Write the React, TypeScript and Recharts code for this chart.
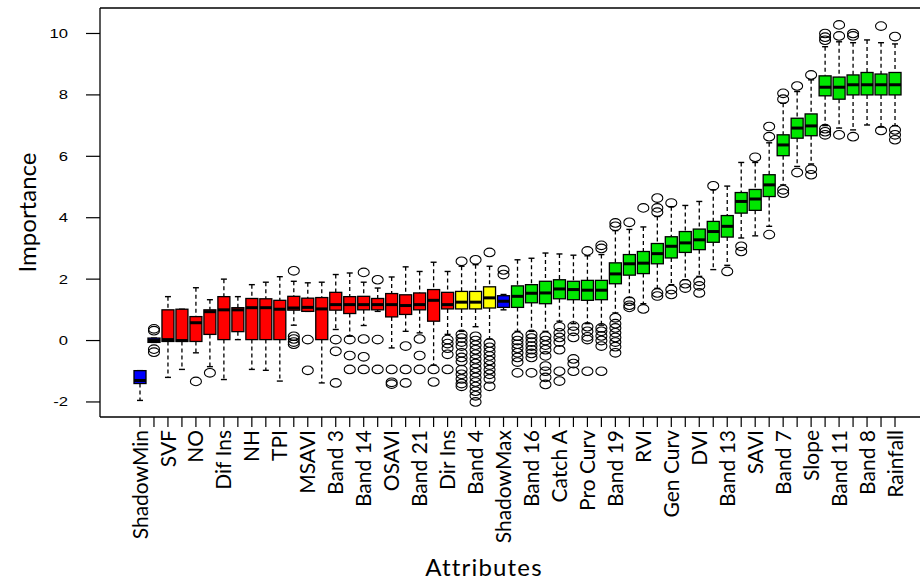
import React from "react";
import { ComposedChart, Bar, Scatter, XAxis, YAxis, ReferenceLine, Label } from "recharts";

// Attribute labels (R only printed every other name; unprinted ones left blank)
const tickLabels: string[] = [
  "ShadowMin", "", "SVF", "", "NO", "", "Dif Ins", "", "NH", "", "TPI", "", "MSAVI", "", "Band 3", "",
  "Band 14", "", "OSAVI", "", "Band 21", "", "Dir Ins", "", "Band 4", "", "ShadowMax", "", "Band 16", "",
  "Catch A", "", "Pro Curv", "", "Band 19", "", "RVI", "", "Gen Curv", "", "DVI", "", "Band 13", "",
  "SAVI", "", "Band 7", "", "Slope", "", "Band 11", "", "Band 8", "", "Rainfall",
];

// S = shadow, R = rejected, T = tentative, C = confirmed
const decisions: string[] = [
  "S", "S", "R", "R", "R", "R", "R", "R", "R", "R", "R", "R", "R", "R", "R", "R",
  "R", "R", "R", "R", "R", "R", "R", "T", "T", "T", "S", "C", "C", "C",
  "C", "C", "C", "C", "C", "C", "C", "C", "C", "C", "C", "C", "C", "C",
  "C", "C", "C", "C", "C", "C", "C", "C", "C", "C", "C",
];

const whiskerLow: number[] = [
  -1.95, -0.06, -1.2, -0.94, -0.4, -0.85, -1.27, 0.03, -0.94, -0.97, -1.32, 0.5, 0.95, -1.38, 0.36, 0.14,
  0.49, 0.95, -0.24, 0.3, 0.25, -0.8, 0.2, 0.3, 0.45, 0.05, 1.0, 0.3, 0.3, 0.3,
  0.63, 0.55, 0.55, 0.5, 0.9, 1.4, 1.2, 1.7, 1.82, 1.98, 2.09, 2.31, 2.45, 3.34,
  3.41, 3.72, 5.07, 5.67, 5.75, 7.0, 6.92, 6.86, 7.02, 6.95, 7.0,
];
const quartile1: number[] = [
  -1.4, -0.06, -0.03, -0.03, -0.03, 0.2, 0.03, 0.29, 0.03, 0.03, 0.03, 0.99, 0.95, 0.03, 0.99, 0.88,
  1.0, 1.0, 0.77, 0.85, 1.0, 0.63, 1.03, 1.03, 1.03, 1.06, 1.08, 1.08, 1.23, 1.2,
  1.36, 1.33, 1.31, 1.33, 1.85, 2.13, 2.18, 2.5, 2.69, 2.87, 2.96, 3.2, 3.37, 4.15,
  4.24, 4.69, 6.02, 6.59, 6.67, 7.97, 7.86, 8.0, 8.0, 8.0, 8.0,
];
const medians: number[] = [
  -1.3, 0.0, 0.03, 0.0, 0.58, 0.94, 1.0, 1.0, 1.07, 1.07, 1.02, 1.06, 1.08, 1.03, 1.17, 1.17,
  1.17, 1.17, 1.17, 1.14, 1.17, 1.31, 1.17, 1.25, 1.25, 1.39, 1.28, 1.44, 1.54, 1.55,
  1.68, 1.66, 1.64, 1.64, 2.17, 2.5, 2.52, 2.83, 3.07, 3.18, 3.28, 3.55, 3.72, 4.53,
  4.61, 5.07, 6.37, 6.92, 6.99, 8.25, 8.25, 8.33, 8.33, 8.33, 8.33,
];
const quartile3: number[] = [
  -0.98, 0.08, 1.0, 1.02, 0.78, 1.0, 1.43, 1.07, 1.37, 1.36, 1.31, 1.44, 1.38, 1.4, 1.57, 1.43,
  1.44, 1.37, 1.53, 1.49, 1.55, 1.66, 1.57, 1.6, 1.6, 1.75, 1.46, 1.78, 1.82, 1.93,
  1.98, 1.93, 1.96, 1.96, 2.53, 2.8, 2.9, 3.16, 3.38, 3.55, 3.63, 3.88, 4.07, 4.82,
  4.92, 5.4, 6.7, 7.24, 7.38, 8.62, 8.58, 8.65, 8.73, 8.68, 8.73,
];
const whiskerHigh: number[] = [
  -0.98, 0.08, 1.43, 1.02, 1.72, 1.33, 2.0, 1.43, 1.82, 1.9, 2.08, 1.93, 1.88, 1.9, 2.15, 2.2,
  1.9, 1.71, 2.07, 2.4, 2.25, 2.55, 2.25, 2.42, 2.47, 2.42, 1.5, 2.63, 2.68, 2.85,
  2.82, 2.78, 2.76, 2.8, 3.58, 3.62, 3.7, 4.04, 4.36, 4.4, 4.53, 4.91, 5.03, 5.8,
  5.8, 6.44, 7.73, 8.11, 8.49, 9.57, 9.73, 9.7, 9.79, 9.7, 9.66,
];
const outliers: number[][] = [
  [], [0.38, 0.32, -0.28, -0.38], [], [], [-1.33], [-1.05], [], [], [], [], [],
  [2.27, 0.14, 0.05, -0.05, -0.12], [0.03, -0.97], [], [0.03, -0.35, -1.38], [0.03, -0.49, -0.94],
  [2.22, 0.05, -0.53, -0.94], [1.98, 0.03, -0.94], [-0.94, -1.36, -1.42], [-0.18, -0.94, -1.38],
  [0.05, -0.49, -0.94], [-0.94, -1.35], [0.03, -0.1, -0.25, -0.45, -0.94],
  [2.58, 0.2, 0.08, -0.05, -0.18, -0.4, -0.55, -0.68, -0.95, -1.1, -1.25, -1.4, -1.49],
  [2.63, 0.14, 0.0, -0.15, -0.3, -0.45, -0.6, -0.75, -0.9, -1.05, -1.2, -1.35, -1.5, -1.65, -1.8, -2.0],
  [2.87, -0.08, -0.22, -0.36, -0.5, -0.65, -0.8, -0.95, -1.1, -1.25, -1.49],
  [2.3, 2.15],
  [0.14, 0.0, -0.12, -0.25, -0.4, -0.55, -0.7, -1.05],
  [0.2, 0.08, -0.05, -0.18, -0.3, -0.42, -0.55, -1.05],
  [0.14, 0.0, -0.15, -0.3, -0.5, -0.83, -1.0, -1.2, -1.43],
  [0.45, 0.25, 0.1, -0.05, -0.3, -1.0, -1.32],
  [0.47, 0.3, 0.1, -0.6, -0.75, -1.0],
  [2.92, 0.45, 0.3, 0.12, 0.03, -1.0],
  [3.1, 3.0, 0.41, 0.3, 0.15, 0.0, -0.18, -1.0],
  [3.83, 3.72, 0.74, 0.55, 0.41, 0.25, 0.1, -0.05, -0.2, -0.4],
  [3.85, 1.28, 1.15, 1.08],
  [4.32, 1.03],
  [4.64, 4.32, 4.18, 1.55, 1.45],
  [4.48, 1.66, 1.5],
  [1.85, 1.71],
  [1.93, 1.78, 1.55],
  [5.04],
  [2.25],
  [3.07, 2.9],
  [5.97],
  [6.97, 6.64, 3.45],
  [8.05, 7.86, 4.91, 4.8],
  [8.29, 5.47],
  [8.65, 5.58, 5.4],
  [10.0, 9.88, 9.78, 6.9, 6.8, 6.7],
  [10.28, 9.92, 6.7],
  [10.0, 9.92, 6.64],
  [],
  [10.24, 6.84],
  [9.9, 6.86, 6.7, 6.54],
];

const yTicks: number[] = [-2, 0, 2, 4, 6, 8, 10];
const yDomain: [number, number] = [-2.49, 10.83];

const COLORS: Record<string, string> = {
  S: "#0000ff",
  R: "#ff0000",
  T: "#ffff00",
  C: "#00e600",
};

const data = tickLabels.map((label, i) => ({
  pos: i,
  label,
  range: [whiskerLow[i], whiskerHigh[i]],
  lo: whiskerLow[i],
  q1: quartile1[i],
  med: medians[i],
  q3: quartile3[i],
  hi: whiskerHigh[i],
  fill: COLORS[decisions[i]],
}));

const outlierPoints = outliers.flatMap((vals, i) => vals.map((v) => ({ pos: i, value: v })));

const BoxShape = (props: any) => {
  const { x, y, width, height, payload } = props;
  if (x == null || y == null || !payload) return null;
  const top = Math.min(y, y + height);
  const bottom = Math.max(y, y + height);
  const { lo, hi, q1, q3, med, fill } = payload;
  const span = hi - lo;
  const py = (v: number) => (span === 0 ? top : bottom - ((v - lo) / span) * (bottom - top));
  const cx = x + width / 2;
  const cap = width * 0.25;
  return (
    <g>
      <line x1={cx} x2={cx} y1={py(hi)} y2={py(q3)} stroke="#000" strokeWidth={1.3} strokeDasharray="4 3" />
      <line x1={cx} x2={cx} y1={py(q1)} y2={py(lo)} stroke="#000" strokeWidth={1.3} strokeDasharray="4 3" />
      <line x1={cx - cap} x2={cx + cap} y1={py(hi)} y2={py(hi)} stroke="#000" strokeWidth={1.4} />
      <line x1={cx - cap} x2={cx + cap} y1={py(lo)} y2={py(lo)} stroke="#000" strokeWidth={1.4} />
      <rect x={x} y={py(q3)} width={width} height={Math.max(py(q1) - py(q3), 0.5)} fill={fill} stroke="#000" strokeWidth={1.3} />
      <line x1={x} x2={x + width} y1={py(med)} y2={py(med)} stroke="#000" strokeWidth={3} />
    </g>
  );
};

const OutlierShape = (props: any) => {
  const { cx, cy } = props;
  if (cx == null || cy == null) return null;
  return <ellipse cx={cx} cy={cy} rx={5.5} ry={4.3} fill="none" stroke="#000" strokeWidth={1.1} />;
};

const XTick = (props: any) => {
  const { x, y, payload } = props;
  const label = tickLabels[payload.value];
  if (!label) return null;
  return (
    <text
      transform={`translate(${x},${y}) rotate(-90)`}
      textAnchor="end"
      dy="0.36em"
      fontFamily="Lato, 'Open Sans', sans-serif"
      fontSize={21}
      fill="#000"
    >
      {label}
    </text>
  );
};

const YTick = (props: any) => {
  const { x, y, payload } = props;
  return (
    <text
      transform={`translate(${x},${y}) scale(1.33,1)`}
      textAnchor="end"
      dy="0.36em"
      fontFamily="'Liberation Sans', Arial, sans-serif"
      fontSize={12.5}
      fill="#000"
    >
      {payload.value}
    </text>
  );
};

const YTitle = (props: any) => {
  const vb = props.viewBox || { x: 0, y: 8, width: 100, height: 409 };
  const cx = vb.x + 27;
  const cy = vb.y + vb.height / 2;
  return (
    <text
      transform={`translate(${cx},${cy}) rotate(-90)`}
      textAnchor="middle"
      dy="0.36em"
      fontFamily="Lato, 'Open Sans', sans-serif"
      fontSize={24}
      fill="#000"
    >
      Importance
    </text>
  );
};

const XTitle = (props: any) => {
  const vb = props.viewBox || { x: 100, y: 417, width: 833, height: 163 };
  return (
    <text
      x={vb.x + 384}
      y={576}
      textAnchor="middle"
      fontFamily="Lato, 'Open Sans', sans-serif"
      fontSize={24}
      letterSpacing={1.2}
      fill="#000"
    >
      Attributes
    </text>
  );
};

export default function App() {
  return (
    <div
      style={{
        position: "absolute",
        left: 0,
        top: 0,
        width: 920,
        height: 580,
        overflow: "hidden",
        background: "#fff",
      }}
    >
      <ComposedChart width={945} height={580} data={data} margin={{ top: 8, right: 12, bottom: 0, left: 0 }}>
        <XAxis
          dataKey="pos"
          type="category"
          allowDuplicatedCategory={false}
          interval={0}
          height={163}
          padding={{ left: 33, right: 31 }}
          tickSize={10}
          tickMargin={3}
          axisLine={{ stroke: "#000", strokeWidth: 1.3 }}
          tickLine={{ stroke: "#000", strokeWidth: 1.2 }}
          tick={XTick}
        >
          <Label content={XTitle} />
        </XAxis>
        <YAxis
          type="number"
          domain={yDomain}
          ticks={yTicks}
          allowDataOverflow
          width={100}
          tickSize={14}
          tickMargin={18}
          axisLine={{ stroke: "#000", strokeWidth: 1.3 }}
          tickLine={{ stroke: "#000", strokeWidth: 1.2 }}
          tick={YTick}
        >
          <Label content={YTitle} />
        </YAxis>
        <ReferenceLine y={yDomain[1]} stroke="#000" strokeWidth={1.3} />
        <Bar dataKey="range" barSize={12} shape={BoxShape} isAnimationActive={false} />
        <Scatter data={outlierPoints} dataKey="value" shape={OutlierShape} isAnimationActive={false} />
      </ComposedChart>
    </div>
  );
}
